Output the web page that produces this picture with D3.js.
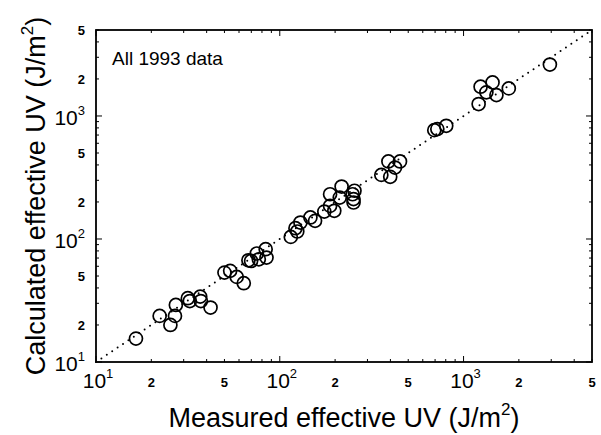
<!DOCTYPE html>
<html>
<head>
<meta charset="utf-8">
<script src="https://cdn.jsdelivr.net/npm/d3@7"></script>
<style>
  body { margin: 0; background: #fff; }
  svg { font-family: "Liberation Sans", Arial, Helvetica, sans-serif; }
</style>
</head>
<body>
<div id="figure"></div>
<script>
// measured vs calculated effective UV (J/m2)
const measured = [
  16.5, 22.2, 25.4, 26.9, 27.2, 31.6, 32.4, 36.9, 37.2, 42.0,
  50.0, 53.7, 58.3, 63.7, 67.5, 69.8, 75.0, 76.9, 83.8, 84.7,
  114.8, 121.7, 124.5, 129.5, 146.8, 155.6, 174.7, 187.8, 187.8, 198,
  212, 217, 249, 252, 252, 255, 357, 390, 399, 423.6,
  451, 693, 720, 805, 1208, 1238, 1331, 1438, 1510, 1763, 2950,
];
const calculated = [
  15.5, 23.7, 20.0, 23.7, 29.1, 33.0, 31.3, 34.0, 31.3, 27.7,
  53.3, 55.1, 49.2, 43.7, 67.1, 66.3, 76.2, 68.4, 82.6, 70.6,
  104, 122.4, 115, 136, 149.6, 140.4, 167, 185.8, 231, 169.5,
  217, 267, 231, 211, 198, 246.6, 332, 427, 320, 381,
  427, 767, 782, 832, 1250, 1730, 1556, 1875, 1479, 1676, 2620,
];
const majorTicks = [10, 100, 1000];
const labelledMinor = [20, 50, 200, 500, 2000, 5000];
const domain = [10, 5000];
const panelLabel = "All 1993 data";
const xTitle = "Measured effective UV (J/m";
const yTitle = "Calculated effective UV (J/m";

const width = 601,
  height = 435;
const margin = { top: 30, right: 9, bottom: 73, left: 96 };
const plotW = width - margin.left - margin.right,
  plotH = height - margin.top - margin.bottom;

const data = measured.map((m, i) => ({ m: m, c: calculated[i] }));

const x = d3.scaleLog().domain(domain).range([0, plotW]);
const y = d3.scaleLog().domain(domain).range([plotH, 0]);

// every minor tick inside the domain
let allTicks = [];
for (let dec = 10; dec <= 1000; dec *= 10) {
  for (let k = 1; k <= 9; k++) {
    const v = dec * k;
    if (v >= domain[0] && v <= domain[1]) allTicks.push(v);
  }
}

const svg = d3
  .select("#figure")
  .append("svg")
  .attr("width", width)
  .attr("height", height);

const g = svg
  .append("g")
  .attr("transform", `translate(${margin.left},${margin.top})`);

// 1:1 dotted line
g.append("line")
  .attr("x1", x(domain[0]))
  .attr("y1", y(domain[0]))
  .attr("x2", x(domain[1]))
  .attr("y2", y(domain[1]))
  .attr("stroke", "#000")
  .attr("stroke-width", 2)
  .attr("stroke-linecap", "round")
  .attr("stroke-dasharray", "0,6.5");

// points
g.selectAll("circle")
  .data(data)
  .join("circle")
  .attr("cx", (d) => x(d.m))
  .attr("cy", (d) => y(d.c))
  .attr("r", 6.5)
  .attr("fill", "none")
  .attr("stroke", "#000")
  .attr("stroke-width", 1.7);

// inward ticks on all four sides
const tickLen = (v) => (majorTicks.includes(v) ? 6 : 3);
const ticks = g.append("g").attr("stroke", "#000").attr("stroke-width", 1);
allTicks.forEach((v) => {
  const len = tickLen(v);
  ticks.append("line").attr("x1", x(v)).attr("x2", x(v)).attr("y1", plotH).attr("y2", plotH - len);
  ticks.append("line").attr("x1", x(v)).attr("x2", x(v)).attr("y1", 0).attr("y2", len);
  ticks.append("line").attr("y1", y(v)).attr("y2", y(v)).attr("x1", 0).attr("x2", len);
  ticks.append("line").attr("y1", y(v)).attr("y2", y(v)).attr("x1", plotW).attr("x2", plotW - len);
});

// frame
g.append("rect")
  .attr("width", plotW)
  .attr("height", plotH)
  .attr("fill", "none")
  .attr("stroke", "#000")
  .attr("stroke-width", 1.8);

// x tick labels
const xLabels = g.append("g").attr("text-anchor", "middle");
majorTicks.forEach((v) => {
  const t = xLabels
    .append("text")
    .attr("x", x(v) + 2)
    .attr("y", plotH + 26)
    .attr("font-size", 21);
  t.append("tspan").text("10");
  t.append("tspan")
    .attr("font-size", 13)
    .attr("dy", -10)
    .text(Math.log10(v));
});
labelledMinor.forEach((v) => {
  xLabels
    .append("text")
    .attr("x", x(v))
    .attr("y", plotH + 25)
    .attr("font-size", 13)
    .attr("font-weight", "bold")
    .text(String(v)[0]);
});

// y tick labels
const yLabels = g.append("g").attr("text-anchor", "end");
majorTicks.forEach((v) => {
  const t = yLabels
    .append("text")
    .attr("x", -11)
    .attr("y", y(v) + 9)
    .attr("font-size", 21);
  t.append("tspan").text("10");
  t.append("tspan")
    .attr("font-size", 13)
    .attr("dy", -10)
    .text(Math.log10(v));
});
labelledMinor.forEach((v) => {
  yLabels
    .append("text")
    .attr("x", -11)
    .attr("y", y(v) + 5)
    .attr("font-size", 13)
    .attr("font-weight", "bold")
    .text(String(v)[0]);
});

// panel label
g.append("text")
  .attr("x", 16)
  .attr("y", 35)
  .attr("font-size", 19)
  .text(panelLabel);

// axis titles
const xt = svg
  .append("text")
  .attr("x", margin.left + plotW / 2)
  .attr("y", 427)
  .attr("text-anchor", "middle")
  .attr("font-size", 27)
  .text(xTitle);
xt.append("tspan").attr("font-size", 17).attr("dy", -12).text("2");
xt.append("tspan").attr("dy", 12).text(")");

const yt = svg
  .append("text")
  .attr("transform", `translate(45,${margin.top + plotH / 2}) rotate(-90)`)
  .attr("text-anchor", "middle")
  .attr("font-size", 27)
  .text(yTitle);
yt.append("tspan").attr("font-size", 17).attr("dy", -12).text("2");
yt.append("tspan").attr("dy", 12).text(")");
</script>
</body>
</html>
